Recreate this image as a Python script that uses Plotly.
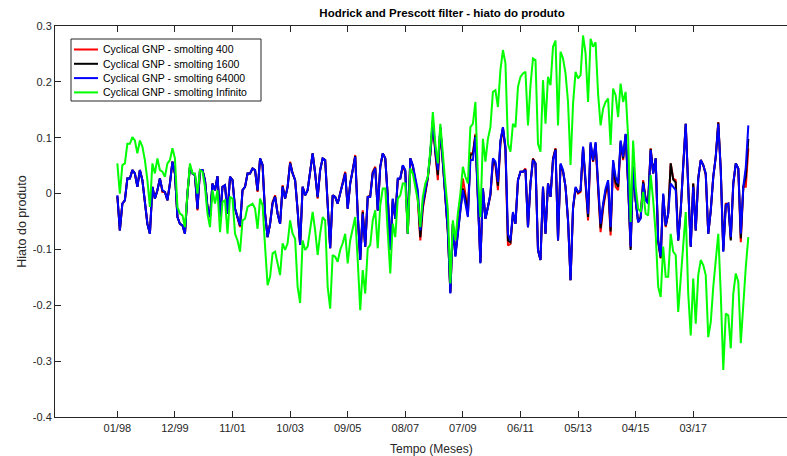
import plotly.graph_objects as go

title = "Hodrick and Prescott filter - hiato do produto"
x_label = "Tempo (Meses)"
y_label = "Hiato do produto"
series_names = ["Cyclical GNP - smolting 400", "Cyclical GNP - smolting 1600",
                "Cyclical GNP - smolting 64000", "Cyclical GNP - smolting Infinito"]
series_colors = ["#FF0000", "#000000", "#0000FF", "#00FF00"]

x_tick_pos = [1, 24, 47, 70, 93, 116, 139, 162, 185, 208, 231]
x_tick_labels = ["01/98", "12/99", "11/01", "10/03", "09/05", "08/07", "07/09", "06/11", "05/13", "04/15", "03/17"]
y_tick_vals = [-0.4, -0.3, -0.2, -0.1, 0, 0.1, 0.2, 0.3]
y_tick_labels = ["-0.4", "-0.3", "-0.2", "-0.1", "0", "0.1", "0.2", "0.3"]

cyc_64000 = [
    -0.003, -0.066, -0.018, -0.012, 0.027, 0.027, 0.042, 0.036, 0.012, 0.042,
    0.024, -0.018, -0.054, -0.072, 0.012, -0.009, 0.006, 0.027, 0.006, 0.003,
    -0.012, 0.018, 0.057, 0.036, -0.042, -0.054, -0.057, -0.072, 0.000, 0.048,
    0.036, 0.033, -0.027, 0.042, 0.042, 0.024, -0.024, -0.042, 0.018, 0.006,
    0.031, -0.042, 0.012, 0.015, -0.036, 0.030, 0.024, -0.027, -0.042, -0.057,
    0.006, 0.012, 0.036, 0.036, 0.045, 0.042, 0.006, 0.063, 0.051, -0.036,
    -0.078, -0.054, -0.018, -0.006, -0.036, -0.054, 0.012, -0.009, 0.012, 0.054,
    0.036, 0.024, -0.030, -0.092, 0.012, -0.003, 0.006, 0.036, 0.072, 0.036,
    -0.006, 0.042, 0.063, 0.060, -0.030, -0.098, -0.003, -0.006, -0.018, 0.003,
    0.018, 0.036, -0.027, 0.018, 0.039, 0.066, -0.036, -0.119, -0.036, -0.095,
    -0.006, -0.006, 0.036, 0.045, -0.030, 0.048, 0.072, 0.063, -0.006, -0.101,
    -0.009, -0.045, 0.027, 0.027, 0.051, 0.042, -0.072, 0.063, 0.051, 0.030,
    0.006, -0.066, -0.018, 0.006, 0.030, 0.072, 0.131, 0.078, 0.042, 0.119,
    0.054, -0.006, -0.066, -0.179, -0.054, -0.113, -0.066, -0.030, 0.006, -0.015,
    -0.042, 0.060, 0.060, 0.101, -0.006, -0.125, 0.009, -0.045, -0.024, 0.000,
    0.063, 0.057, 0.021, 0.095, 0.119, 0.084, -0.072, -0.084, -0.033, -0.054,
    0.024, 0.039, 0.039, 0.042, -0.060, 0.018, 0.060, 0.054, -0.101, -0.119,
    0.012, -0.072, 0.018, -0.006, 0.060, 0.078, -0.084, 0.054, 0.042, 0.012,
    -0.048, -0.155, -0.024, 0.012, 0.003, 0.006, 0.084, 0.024, -0.036, 0.092,
    0.060, 0.092, 0.018, -0.054, -0.018, 0.009, 0.024, -0.060, 0.060, 0.030,
    0.018, 0.095, 0.066, 0.107, 0.018, -0.095, 0.048, -0.012, -0.051, -0.045,
    0.018, -0.012, -0.018, 0.078, 0.036, 0.063, -0.084, -0.113, 0.000, -0.057,
    -0.036, 0.018, 0.012, 0.006, -0.084, -0.030, 0.048, 0.125, 0.012, -0.095,
    0.012, -0.066, 0.027, 0.060, 0.051, 0.036, -0.072, -0.030, 0.030, 0.066,
    0.125, 0.042, -0.104, -0.021, -0.018, -0.078, 0.018, 0.054, 0.045, -0.072,
    0.012, 0.048, 0.122,
]

cyc_400 = [
    -0.006, -0.066, -0.018, -0.012, 0.027, 0.027, 0.042, 0.036, 0.012, 0.042,
    0.024, -0.018, -0.054, -0.072, 0.012, -0.009, 0.006, 0.027, 0.003, 0.003,
    -0.012, 0.018, 0.057, 0.036, -0.042, -0.054, -0.057, -0.072, 0.000, 0.048,
    0.036, 0.033, -0.030, 0.042, 0.042, 0.024, -0.024, -0.042, 0.018, 0.006,
    0.031, -0.042, 0.012, 0.015, -0.036, 0.030, 0.024, -0.027, -0.045, -0.060,
    0.006, 0.012, 0.036, 0.036, 0.045, 0.042, 0.003, 0.063, 0.051, -0.036,
    -0.078, -0.054, -0.015, -0.003, -0.036, -0.054, 0.015, -0.009, 0.012, 0.057,
    0.036, 0.024, -0.030, -0.092, 0.012, -0.003, 0.006, 0.036, 0.072, 0.036,
    -0.009, 0.042, 0.063, 0.060, -0.030, -0.098, -0.003, -0.006, -0.018, 0.003,
    0.018, 0.039, -0.027, 0.018, 0.042, 0.069, -0.036, -0.119, -0.030, -0.095,
    -0.006, -0.003, 0.039, 0.048, -0.030, 0.048, 0.072, 0.063, -0.006, -0.101,
    -0.012, -0.045, 0.024, 0.027, 0.048, 0.039, -0.072, 0.063, 0.048, 0.024,
    -0.012, -0.084, -0.027, 0.000, 0.027, 0.069, 0.128, 0.072, 0.024, 0.116,
    0.051, -0.009, -0.069, -0.176, -0.054, -0.110, -0.066, -0.030, 0.027, 0.000,
    -0.036, 0.072, 0.072, 0.107, -0.006, -0.122, 0.009, -0.045, -0.024, -0.003,
    0.054, 0.051, 0.006, 0.090, 0.116, 0.078, -0.093, -0.090, -0.036, -0.054,
    0.024, 0.039, 0.039, 0.045, -0.060, 0.018, 0.063, 0.054, -0.101, -0.119,
    0.012, -0.072, 0.018, -0.006, 0.063, 0.081, -0.084, 0.051, 0.039, 0.012,
    -0.048, -0.155, -0.027, 0.009, 0.000, 0.003, 0.081, 0.012, -0.048, 0.087,
    0.057, 0.087, 0.006, -0.069, -0.027, 0.000, 0.015, -0.075, 0.054, 0.012,
    0.006, 0.090, 0.060, 0.104, 0.015, -0.098, 0.048, -0.012, -0.051, -0.042,
    0.024, -0.009, -0.015, 0.081, 0.036, 0.063, -0.087, -0.116, -0.003, -0.060,
    -0.036, 0.054, 0.027, 0.024, -0.084, -0.030, 0.051, 0.125, 0.012, -0.095,
    0.018, -0.066, 0.027, 0.060, 0.051, 0.033, -0.072, -0.030, 0.030, 0.066,
    0.128, 0.042, -0.101, -0.018, -0.018, -0.081, 0.018, 0.054, 0.045, -0.087,
    0.012, 0.012, 0.081,
]

cyc_1600 = [
    -0.004, -0.066, -0.018, -0.012, 0.027, 0.027, 0.042, 0.036, 0.012, 0.042,
    0.024, -0.018, -0.054, -0.072, 0.012, -0.009, 0.006, 0.027, 0.005, 0.003,
    -0.012, 0.018, 0.057, 0.036, -0.042, -0.054, -0.057, -0.072, 0.000, 0.048,
    0.036, 0.033, -0.028, 0.042, 0.042, 0.024, -0.024, -0.042, 0.018, 0.006,
    0.031, -0.042, 0.012, 0.015, -0.036, 0.030, 0.024, -0.027, -0.043, -0.058,
    0.006, 0.012, 0.036, 0.036, 0.045, 0.042, 0.005, 0.063, 0.051, -0.036,
    -0.078, -0.054, -0.017, -0.005, -0.036, -0.054, 0.013, -0.009, 0.012, 0.055,
    0.036, 0.024, -0.030, -0.092, 0.012, -0.003, 0.006, 0.036, 0.072, 0.036,
    -0.007, 0.042, 0.063, 0.060, -0.030, -0.098, -0.003, -0.006, -0.018, 0.003,
    0.018, 0.037, -0.027, 0.018, 0.040, 0.067, -0.036, -0.119, -0.033, -0.095,
    -0.006, -0.005, 0.037, 0.046, -0.030, 0.048, 0.072, 0.063, -0.006, -0.101,
    -0.010, -0.045, 0.026, 0.027, 0.050, 0.041, -0.072, 0.063, 0.050, 0.027,
    -0.003, -0.078, -0.022, 0.003, 0.029, 0.071, 0.130, 0.075, 0.033, 0.118,
    0.053, -0.008, -0.068, -0.178, -0.054, -0.112, -0.066, -0.030, 0.009, -0.008,
    -0.039, 0.070, 0.070, 0.104, -0.006, -0.124, 0.009, -0.045, -0.024, -0.002,
    0.059, 0.054, 0.014, 0.093, 0.118, 0.081, -0.084, -0.087, -0.035, -0.054,
    0.024, 0.039, 0.039, 0.043, -0.060, 0.018, 0.062, 0.054, -0.101, -0.119,
    0.012, -0.072, 0.018, -0.006, 0.062, 0.080, -0.084, 0.052, 0.040, 0.012,
    -0.048, -0.155, -0.026, 0.010, 0.002, 0.005, 0.083, 0.018, -0.042, 0.090,
    0.058, 0.090, 0.012, -0.062, -0.022, 0.005, 0.020, -0.068, 0.057, 0.020,
    0.012, 0.093, 0.063, 0.106, 0.016, -0.101, 0.048, -0.012, -0.051, -0.043,
    0.021, -0.010, -0.016, 0.080, 0.036, 0.063, -0.085, -0.115, -0.002, -0.058,
    -0.036, 0.054, 0.025, 0.020, -0.084, -0.030, 0.050, 0.125, 0.012, -0.095,
    0.018, -0.066, 0.027, 0.060, 0.051, 0.035, -0.072, -0.030, 0.030, 0.066,
    0.127, 0.042, -0.103, -0.020, -0.018, -0.084, 0.018, 0.054, 0.045, -0.080,
    0.012, 0.030, 0.098,
]

cyc_inf = [
    0.054, 0.000, 0.051, 0.054, 0.089, 0.089, 0.101, 0.095, 0.072, 0.095,
    0.084, 0.060, 0.024, -0.024, 0.054, 0.036, 0.063, 0.042, 0.039, 0.030,
    0.054, 0.060, 0.081, 0.063, -0.024, -0.036, -0.039, -0.060, 0.000, 0.054,
    0.036, 0.036, 0.000, 0.042, 0.039, 0.012, -0.036, -0.060, 0.006, -0.018,
    0.006, -0.069, -0.015, -0.012, -0.072, -0.006, -0.009, -0.072, -0.084, -0.104,
    -0.048, -0.045, -0.024, -0.021, -0.018, -0.027, -0.063, -0.009, -0.021, -0.095,
    -0.164, -0.149, -0.107, -0.104, -0.128, -0.146, -0.089, -0.101, -0.089, -0.048,
    -0.072, -0.081, -0.167, -0.196, -0.084, -0.101, -0.095, -0.060, -0.033, -0.066,
    -0.110, -0.072, -0.042, -0.048, -0.167, -0.206, -0.110, -0.113, -0.122, -0.101,
    -0.089, -0.072, -0.125, -0.084, -0.060, -0.042, -0.119, -0.209, -0.137, -0.179,
    -0.098, -0.092, -0.048, -0.030, -0.098, -0.021, 0.009, 0.009, -0.069, -0.143,
    -0.054, -0.078, -0.009, -0.003, 0.018, 0.018, -0.072, 0.045, 0.036, 0.012,
    -0.012, -0.060, -0.006, 0.018, 0.030, 0.078, 0.146, 0.089, 0.054, 0.125,
    0.066, 0.018, -0.030, -0.161, -0.048, -0.084, -0.036, 0.000, 0.048, 0.030,
    0.018, 0.119, 0.125, 0.164, 0.030, -0.042, 0.098, 0.057, 0.098, 0.119,
    0.182, 0.185, 0.155, 0.221, 0.257, 0.233, 0.089, 0.075, 0.125, 0.119,
    0.191, 0.209, 0.215, 0.218, 0.122, 0.194, 0.242, 0.239, 0.089, 0.075,
    0.203, 0.125, 0.209, 0.194, 0.263, 0.274, 0.122, 0.254, 0.242, 0.215,
    0.164, 0.051, 0.161, 0.218, 0.206, 0.212, 0.283, 0.251, 0.164, 0.277,
    0.263, 0.271, 0.179, 0.122, 0.152, 0.164, 0.170, 0.087, 0.188, 0.176,
    0.137, 0.197, 0.164, 0.182, 0.101, -0.051, 0.095, 0.012, -0.027, -0.033,
    0.003, -0.036, -0.039, 0.033, -0.012, -0.072, -0.167, -0.185, -0.095, -0.149,
    -0.149, -0.072, -0.104, -0.110, -0.212, -0.155, -0.107, -0.033, -0.179, -0.254,
    -0.152, -0.233, -0.146, -0.119, -0.128, -0.146, -0.257, -0.230, -0.167, -0.119,
    -0.072, -0.179, -0.316, -0.215, -0.218, -0.277, -0.179, -0.143, -0.158, -0.268,
    -0.191, -0.131, -0.078,
]

months = list(range(1, len(cyc_64000) + 1))
series = [cyc_400, cyc_1600, cyc_64000, cyc_inf]

# plot-area geometry in pixels (used only to place the hand-drawn legend/labels)
W, H = 787, 456
L, R, T, B = 55, 0, 26, 39
PW, PH = W - L - R, H - T - B


def px(x):
    return (x - L) / PW


def py(y):
    return (H - B - y) / PH


fig = go.Figure()
for name, color, vals in zip(series_names, series_colors, series):
    fig.add_trace(go.Scatter(x=months, y=vals, mode="lines", name=name,
                             line=dict(color=color, width=2), showlegend=False))

axis_color = "#262626"

# legend box (MATLAB style)
shapes = [dict(type="rect", xref="paper", yref="paper",
               x0=px(71), x1=px(261), y0=py(101), y1=py(39),
               line=dict(color=axis_color, width=1), fillcolor="white", layer="above")]
annotations = []
row_y = [49.5, 63.8, 78.1, 92.4]
for name, color, ry in zip(series_names, series_colors, row_y):
    shapes.append(dict(type="line", xref="paper", yref="paper",
                       x0=px(74), x1=px(98), y0=py(ry), y1=py(ry),
                       line=dict(color=color, width=2), layer="above"))
    annotations.append(dict(text=name, xref="paper", yref="paper", x=px(101), y=py(ry),
                            xanchor="left", yanchor="middle", showarrow=False,
                            font=dict(size=10.5, color="#000000")))

annotations.append(dict(text=x_label, xref="paper", yref="paper", x=px(431), y=py(449),
                        xanchor="center", yanchor="middle", showarrow=False,
                        font=dict(size=12, color=axis_color)))

fig.update_layout(
    width=W, height=H,
    margin=dict(l=L, r=R, t=T, b=B),
    plot_bgcolor="white", paper_bgcolor="white",
    font=dict(family="Liberation Sans, Arial, sans-serif", size=10, color=axis_color),
    title=dict(text="<b>" + title + "</b>", x=442 / W, xref="container", xanchor="center",
               y=1 - 13 / H, yref="container", yanchor="middle",
               font=dict(size=11.5, color="#000000")),
    showlegend=False,
    shapes=shapes,
    annotations=annotations,
    xaxis=dict(range=[-23.9, 268.45], tickmode="array", tickvals=x_tick_pos, ticktext=x_tick_labels,
               showgrid=False, zeroline=False, showline=True, linecolor=axis_color, linewidth=1,
               mirror="ticks", ticks="inside", ticklen=6, tickcolor=axis_color,
               ticklabelstandoff=1,
               tickfont=dict(size=11, color=axis_color)),
    yaxis=dict(range=[-0.4, 0.3], tickmode="array", tickvals=y_tick_vals, ticktext=y_tick_labels,
               showgrid=False, zeroline=False, showline=True, linecolor=axis_color, linewidth=1,
               ticks="inside", ticklen=6, tickcolor=axis_color,
               tickfont=dict(size=11, color=axis_color),
               title=dict(text=y_label, font=dict(size=12.5, color=axis_color), standoff=3)),
)

fig.write_html("out.html")
